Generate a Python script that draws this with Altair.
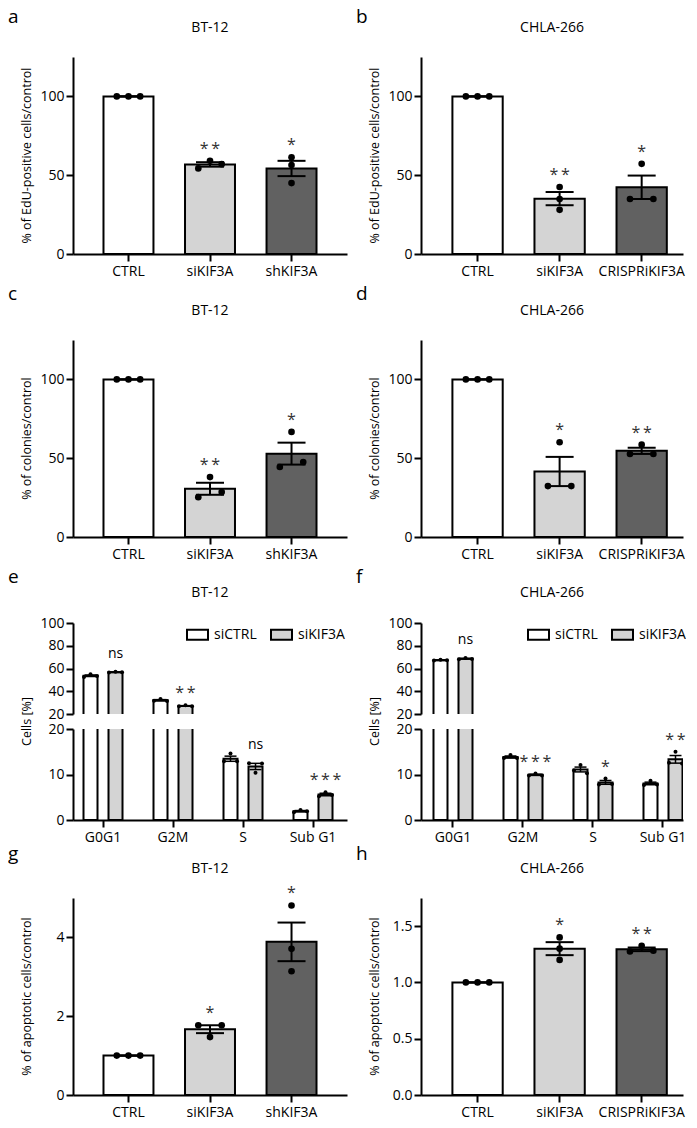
import altair as alt
import pandas as pd

FONT = "Open Sans"
WHITE, LIGHT, DARK = "#ffffff", "#d4d4d4", "#616161"

# ---------------- data ----------------
CATS_BT = ["CTRL", "siKIF3A", "shKIF3A"]
CATS_CH = ["CTRL", "siKIF3A", "CRISPRiKIF3A"]

edu_bt = [[100, 100, 100], [54.3, 59.2, 57.0], [61.4, 56.4, 45.0]]
edu_ch = [[100, 100, 100], [42.5, 34.9, 28.0], [34.9, 57.2, 34.9]]
col_bt = [[100, 100, 100], [25.3, 38.0, 28.5], [44.4, 66.7, 47.6]]
col_ch = [[100, 100, 100], [32.3, 60.1, 32.3], [52.7, 58.6, 52.7]]
apo_bt = [[1, 1, 1], [1.77, 1.47, 1.77], [4.81, 3.71, 3.14]]
apo_ch = [[1, 1, 1], [1.40, 1.30, 1.20], [1.275, 1.326, 1.281]]

ann_edu_bt = ["", "**", "*"]
ann_edu_ch = ["", "**", "*"]
ann_col_bt = ["", "**", "*"]
ann_col_ch = ["", "*", "**"]
ann_apo_bt = ["", "*", "*"]
ann_apo_ch = ["", "*", "**"]

PHASES = ["G0G1", "G2M", "S", "Sub G1"]
CONDS = ["siCTRL", "siKIF3A"]
cc_bt_ctrl = [[52.5, 55.0, 53.5], [31.6, 33.2, 31.4], [12.9, 14.6, 12.9], [1.7, 2.2, 1.9]]
cc_bt_kif = [[56.4, 57.2, 56.8], [26.8, 27.6, 26.9], [12.5, 10.4, 12.4], [5.2, 6.1, 5.5]]
cc_ch_ctrl = [[67.0, 67.8, 67.2], [13.6, 14.3, 13.6], [10.9, 12.1, 10.3], [7.7, 8.6, 7.8]]
cc_ch_kif = [[68.2, 69.2, 68.4], [9.8, 10.2, 9.8], [7.8, 9.1, 7.9], [12.6, 15.0, 12.4]]
ann_cc_bt = ["ns", "**", "ns", "***"]
ann_cc_ch = ["ns", "***", "*", "**"]

# ---------------- layout constants ----------------
H = 197
WL, WR = 274, 262
HSP = 74
SEG = 91
GAP = 15          # uniform row spacing of the grid
EXTRA_C = 71      # extra room above rows c/d and e/f
EXTRA_G = 63      # extra room above row g/h
LBL = 14          # tick label size


def spread(vals, posfn, thr):
    n = len(vals)
    parent = list(range(n))

    def find(i):
        while parent[i] != i:
            i = parent[i]
        return i

    for i in range(n):
        for j in range(i + 1, n):
            if abs(posfn(vals[i]) - posfn(vals[j])) < thr:
                parent[find(j)] = find(i)
    groups = {}
    for i in range(n):
        groups.setdefault(find(i), []).append(i)
    slots = [0.0] * n
    for mem in groups.values():
        k = len(mem)
        if k > 1:
            for idx, m in enumerate(mem):
                slots[m] = -1 + 2 * idx / (k - 1)
    return slots


def star_text(s):
    return s if s == "ns" else "\u2009".join(list(s))


def axis_common(**kw):
    d = dict(domainColor="black", domainWidth=2, tickColor="black", tickWidth=2,
             tickSize=7, labelColor="black", labelFont=FONT, labelFontSize=LBL,
             grid=False, title=None, labelOverlap=False)
    d.update(kw)
    return alt.Axis(**d)


def text_layer(txt, x, y, size, angle=0, align="center", baseline="middle"):
    return alt.Chart(pd.DataFrame({"t": [txt]})).mark_text(
        font=FONT, fontSize=size, angle=angle, align=align, baseline=baseline,
        color="black").encode(text="t:N", x=alt.value(x), y=alt.value(y))


def bar_panel(cats, reps, ann, colors, ymax, yticks, yfmt, ytitle, title, letter,
              W, pi, po, al, T=0, letter_dy=-49):
    pxu = H / ymax
    rows = []
    step = W / (len(cats) - pi + 2 * po)
    bw = step * (1 - pi)
    for c, vals, a in zip(cats, reps, ann):
        slots = spread(vals, lambda v: v * pxu, 7.0)
        for v, s in zip(vals, slots):
            rows.append(dict(cat=c, value=v, px=s * 11.7, label=star_text(a) if a else ""))
    df = pd.DataFrame(rows)
    xs = alt.X("cat:N", sort=cats, title=None,
               scale=alt.Scale(domain=cats, paddingInner=pi, paddingOuter=po, align=al),
               axis=axis_common(labelAngle=0, labelPadding=3))
    ys = alt.Scale(domain=[0, ymax], nice=False, zero=True, range=[T + H, T])
    base = alt.Chart(df)
    bars = base.mark_bar(stroke="black", strokeWidth=2, width=bw).encode(
        x=xs,
        y=alt.Y("mean(value):Q", scale=ys, title=None,
                axis=axis_common(values=yticks, format=yfmt, labelPadding=2)),
        fill=alt.Fill("cat:N", scale=alt.Scale(domain=cats, range=colors), legend=None))
    err = base.transform_aggregate(
        m="mean(value)", sd="stdev(value)", n="count()", groupby=["cat"]
    ).transform_calculate(lo="datum.m - datum.sd / sqrt(datum.n)",
                          hi="datum.m + datum.sd / sqrt(datum.n)")
    rule = err.mark_rule(color="black", strokeWidth=2).encode(
        x=xs, y=alt.Y("lo:Q", scale=ys, title=None), y2="hi:Q")
    cap_hi = err.mark_tick(color="black", size=28, thickness=2, opacity=1).encode(
        x=xs, y=alt.Y("hi:Q", scale=ys, title=None))
    cap_lo = err.mark_tick(color="black", size=28, thickness=2, opacity=1).encode(
        x=xs, y=alt.Y("lo:Q", scale=ys, title=None))
    pts = base.mark_circle(color="black", size=44, opacity=1).encode(
        x=xs,
        xOffset=alt.XOffset("px:Q", scale=alt.Scale(domain=[-bw / 2, bw / 2], range=[0, bw])),
        y=alt.Y("value:Q", scale=ys, title=None))
    stars = base.transform_filter("datum.label != ''").transform_aggregate(
        top="max(value)", groupby=["cat", "label"]
    ).mark_text(font=FONT, fontSize=16, dy=-7, baseline="alphabetic", color="#333").encode(
        x=xs, y=alt.Y("top:Q", scale=ys, title=None), text="label:N")
    let = text_layer(letter, -65, T + letter_dy, 19, align="left", baseline="top")
    ttl = text_layer(title, W / 2, T - 29, 14)
    ylab = text_layer(ytitle, -46, T + H / 2, 12.5, angle=270)
    return alt.layer(bars, rule, cap_hi, cap_lo, pts, stars, let, ttl, ylab).properties(
        width=W, height=T + H)


def cc_segments(ctrl, kif, ann, title, letter, W, po, al, T, legx):
    pi = 30 / 70
    step = W / (len(PHASES) - pi + 2 * po)
    bw = step * (1 - pi)

    def pos(v):
        return v * SEG / 20 if v < 20 else SEG + GAP + (v - 20) * SEG / 80

    rows = []
    for cond, sign, reps in (("siCTRL", -1, ctrl), ("siKIF3A", 1, kif)):
        for ph, vals, a in zip(PHASES, reps, ann):
            slots = spread(vals, pos, 4.0)
            for v, s in zip(vals, slots):
                rows.append(dict(phase=ph, cond=cond, value=v, px=sign * 12.5 + s * 6.5,
                                 label=(star_text(a) if cond == "siKIF3A" else "")))
    df = pd.DataFrame(rows)

    def seg(domain, ticks, top):
        t0 = T if top else 0
        xs = alt.X("phase:N", sort=PHASES, title=None,
                   scale=alt.Scale(domain=PHASES, paddingInner=pi, paddingOuter=po, align=al),
                   axis=None if top else axis_common(labelAngle=0, labelPadding=3))
        ys = alt.Scale(domain=domain, nice=False, zero=False, range=[t0 + SEG, t0])
        base = alt.Chart(df)
        layers = []
        for k, (cond, sign) in enumerate((("siCTRL", -1), ("siKIF3A", 1))):
            sub = base.transform_filter(f"datum.cond == '{cond}'")
            leg = None
            if top:
                leg = alt.Legend(orient="none", legendX=legx, legendY=t0, direction="horizontal",
                                 title=None, symbolType="M-1,-0.476H1V0.476H-1Z", symbolSize=441,
                                 symbolStrokeColor="black", symbolStrokeWidth=2,
                                 symbolOpacity=1, labelFont=FONT, labelFontSize=LBL,
                                 labelColor="black", labelOffset=5, columnPadding=10, padding=0)
            if k == 0:
                ydef = alt.Y("mean(value):Q", scale=ys, title=None,
                             axis=axis_common(values=ticks, format="d", labelPadding=2))
            else:
                ydef = alt.Y("mean(value):Q", scale=ys, title=None)
            layers.append(sub.mark_bar(width=14, xOffset=sign * 12.5, stroke="black",
                                       strokeWidth=2, clip=True).encode(
                x=xs, y=ydef,
                fill=alt.Fill("cond:N", scale=alt.Scale(domain=CONDS, range=[WHITE, LIGHT]),
                              legend=leg)))
        for cond, sign in (("siCTRL", -1), ("siKIF3A", 1)):
            err = base.transform_filter(f"datum.cond == '{cond}'").transform_aggregate(
                m="mean(value)", sd="stdev(value)", n="count()", groupby=["phase"]
            ).transform_calculate(lo="datum.m - datum.sd / sqrt(datum.n)",
                                  hi="datum.m + datum.sd / sqrt(datum.n)")
            layers.append(err.mark_rule(color="black", strokeWidth=1.5, xOffset=sign * 12.5,
                                        clip=True).encode(
                x=xs, y=alt.Y("lo:Q", scale=ys, title=None), y2="hi:Q"))
            for f in ("lo", "hi"):
                layers.append(err.mark_tick(color="black", size=12, thickness=1.5, opacity=1,
                                            xOffset=sign * 12.5, clip=True).encode(
                    x=xs, y=alt.Y(f"{f}:Q", scale=ys, title=None)))
        layers.append(base.mark_circle(color="black", size=16, opacity=1, clip=True).encode(
            x=xs,
            xOffset=alt.XOffset("px:Q", scale=alt.Scale(domain=[-bw / 2, bw / 2], range=[0, bw])),
            y=alt.Y("value:Q", scale=ys, title=None)))
        flt = "datum.top >= 20" if top else "datum.top < 20"
        for kind, fs, dy in (("ns", 14, -14), ("st", 16, -7)):
            cond_expr = ("datum.label == 'ns'" if kind == "ns"
                         else "datum.label != 'ns' && datum.label != ''")
            layers.append(base.transform_filter(cond_expr).transform_aggregate(
                top="max(value)", groupby=["phase", "label"]
            ).transform_filter(flt).mark_text(
                font=FONT, fontSize=fs, dy=dy, dx=12.5, baseline="alphabetic",
                color="black" if kind == "ns" else "#333").encode(
                x=xs, y=alt.Y("top:Q", scale=ys, title=None), text="label:N"))
        if top:
            layers.append(text_layer(letter, -65, t0 - 55, 19, align="left", baseline="top"))
            layers.append(text_layer(title, W / 2, t0 - 30, 14))
            layers.append(text_layer("Cells [%]", -46, t0 + SEG + GAP / 2, 12.5, angle=270))
        return alt.layer(*layers).properties(width=W, height=t0 + SEG)

    return seg([20, 100], [20, 40, 60, 80, 100], True), seg([0, 20], [0, 5, 10, 15, 20], False)


PI = 0.387
# left column bands: step ~81.5 ; right column bands: step ~82, shifted so centres match
POL, ALL = 0.374, 0.5
POR, ALR = 0.29, 0.66
pa = bar_panel(CATS_BT, edu_bt, ann_edu_bt, [WHITE, LIGHT, DARK], 125, [0, 50, 100], "d",
               "% of EdU-positive cells/control", "BT-12", "a", WL, PI, POL, ALL, T=0)
pb = bar_panel(CATS_CH, edu_ch, ann_edu_ch, [WHITE, LIGHT, DARK], 125, [0, 50, 100], "d",
               "% of EdU-positive cells/control", "CHLA-266", "b", WR, PI, POR, ALR, T=0)
pc = bar_panel(CATS_BT, col_bt, ann_col_bt, [WHITE, LIGHT, DARK], 125, [0, 50, 100], "d",
               "% of colonies/control", "BT-12", "c", WL, PI, POL, ALL, T=EXTRA_C, letter_dy=-55)
pd_ = bar_panel(CATS_CH, col_ch, ann_col_ch, [WHITE, LIGHT, DARK], 125, [0, 50, 100], "d",
                "% of colonies/control", "CHLA-266", "d", WR, PI, POR, ALR, T=EXTRA_C,
                letter_dy=-55)
pe_top, pe_bot = cc_segments(cc_bt_ctrl, cc_bt_kif, ann_cc_bt, "BT-12", "e", WL, 0.1714, 0.417,
                             T=EXTRA_C, legx=113)
pf_top, pf_bot = cc_segments(cc_ch_ctrl, cc_ch_kif, ann_cc_ch, "CHLA-266", "f", WR, 0.0857, 1.0,
                             T=EXTRA_C, legx=106)
pg = bar_panel(CATS_BT, apo_bt, ann_apo_bt, [WHITE, LIGHT, DARK], 5, [0, 2, 4], "d",
               "% of apoptotic cells/control", "BT-12", "g", WL, PI, POL, ALL,
               T=EXTRA_G, letter_dy=-53)
ph = bar_panel(CATS_CH, apo_ch, ann_apo_ch, [WHITE, LIGHT, DARK], 1.75, [0, 0.5, 1.0, 1.5], ".1f",
               "% of apoptotic cells/control", "CHLA-266", "h", WR, PI, POR, ALR,
               T=EXTRA_G, letter_dy=-53)

chart = alt.concat(pa, pb, pc, pd_, pe_top, pf_top, pe_bot, pf_bot, pg, ph,
                   columns=2, spacing={"row": GAP, "column": HSP}, bounds="flush")
chart = chart.resolve_scale(fill="independent", xOffset="independent")
chart = chart.properties(padding=0, background="white").configure_view(stroke=None)

chart.save("out.html", embed_options={"renderer": "svg", "actions": False})
